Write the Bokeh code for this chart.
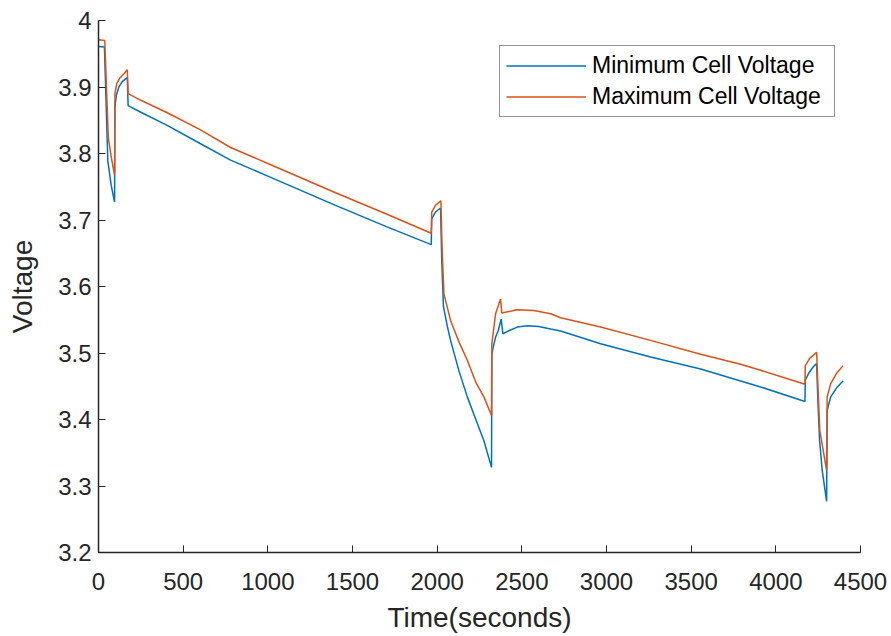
from bokeh.plotting import figure
from bokeh.models import FixedTicker, Legend, LegendItem, Range1d
from bokeh.embed import file_html
from bokeh.resources import INLINE

# ---- data ----
time_min = [0, 35, 55, 75, 95, 97, 105, 120, 140, 170, 175, 250, 400, 600, 780, 1000, 1400, 1700,
            1965, 1968, 1990, 2020, 2027, 2037, 2060, 2079, 2130, 2178, 2230, 2276, 2321,
            2323, 2335, 2345, 2360, 2378, 2388, 2420, 2473, 2532, 2600, 2670, 2729, 2965, 3260,
            3556, 3792, 3910, 4172, 4174, 4195, 4220, 4241, 4248, 4258, 4274, 4300,
            4303, 4324, 4360, 4397]
v_min = [3.961, 3.960, 3.789, 3.752, 3.727, 3.870, 3.887, 3.900, 3.908, 3.914, 3.872, 3.862, 3.843,
         3.815, 3.790, 3.766, 3.722, 3.690, 3.663, 3.702, 3.712, 3.718, 3.640, 3.570, 3.540, 3.519,
         3.472, 3.434, 3.399, 3.368, 3.328, 3.499, 3.513, 3.524, 3.533, 3.551, 3.529, 3.533, 3.539,
         3.541, 3.540, 3.536, 3.533, 3.514, 3.494, 3.476, 3.458, 3.449, 3.427, 3.459, 3.470, 3.479,
         3.484, 3.430, 3.370, 3.323, 3.277, 3.414, 3.434, 3.448, 3.458]

time_max = [0, 37, 58, 75, 95, 97, 108, 125, 150, 170, 175, 250, 400, 600, 780, 1000, 1400, 1700,
            1965, 1968, 1990, 2022, 2030, 2040, 2079, 2130, 2178, 2230, 2276, 2321,
            2323, 2345, 2362, 2374, 2382, 2473, 2570, 2670, 2729, 2965, 3260, 3556, 3792, 3910,
            4172, 4174, 4200, 4241, 4250, 4260, 4300, 4303, 4324, 4360, 4397]
v_max = [3.971, 3.970, 3.824, 3.795, 3.767, 3.890, 3.905, 3.913, 3.920, 3.926, 3.890, 3.880, 3.862,
         3.836, 3.809, 3.785, 3.741, 3.709, 3.680, 3.712, 3.722, 3.729, 3.650, 3.589, 3.549, 3.516,
         3.489, 3.455, 3.434, 3.406, 3.514, 3.559, 3.572, 3.581, 3.560, 3.565, 3.564, 3.559, 3.553,
         3.539, 3.519, 3.498, 3.483, 3.474, 3.453, 3.481, 3.492, 3.501, 3.440, 3.383, 3.323, 3.434,
         3.454, 3.470, 3.481]

x_ticks = [0, 500, 1000, 1500, 2000, 2500, 3000, 3500, 4000, 4500]
y_ticks = [3.2, 3.3, 3.4, 3.5, 3.6, 3.7, 3.8, 3.9, 4.0]
y_tick_labels = ["3.2", "3.3", "3.4", "3.5", "3.6", "3.7", "3.8", "3.9", "4"]
series_names = ["Minimum Cell Voltage", "Maximum Cell Voltage"]

FONT = "Liberation Sans"
TXT = "#262626"

p = figure(width=891, height=636, output_backend="svg", toolbar_location=None,
           x_range=Range1d(0, 4500), y_range=Range1d(3.2, 4.0),
           min_border_left=98, min_border_right=31, min_border_top=20, min_border_bottom=84)
p.outline_line_color = None
p.xgrid.visible = False
p.ygrid.visible = False
p.background_fill_color = "white"
p.border_fill_color = "white"

r1 = p.line(time_min, v_min, line_color="#0072BD", line_width=1.5)
r2 = p.line(time_max, v_max, line_color="#D95319", line_width=1.5)

for ax in (p.xaxis[0], p.yaxis[0]):
    ax.axis_line_color = TXT
    ax.axis_line_width = 1.5
    ax.major_tick_line_color = TXT
    ax.major_tick_in = 7
    ax.major_tick_out = 0
    ax.minor_tick_line_color = None
    ax.major_label_text_font = FONT
    ax.major_label_text_font_size = "24px"
    ax.major_label_text_color = TXT
    ax.axis_label_text_font = FONT
    ax.axis_label_text_font_size = "28px"
    ax.axis_label_text_font_style = "normal"
    ax.axis_label_text_color = TXT

p.xaxis.ticker = FixedTicker(ticks=x_ticks)
p.yaxis.ticker = FixedTicker(ticks=y_ticks)
p.yaxis.major_label_overrides = dict(zip(y_ticks, y_tick_labels))
p.xaxis.axis_label = "Time(seconds)"
p.yaxis.axis_label = "Voltage"
p.xaxis.major_label_standoff = 20
p.yaxis.major_label_standoff = 7
p.xaxis.axis_label_standoff = 9
p.yaxis.axis_label_standoff = 17

legend = Legend(items=[LegendItem(label=series_names[0], renderers=[r1]),
                       LegendItem(label=series_names[1], renderers=[r2])],
                location=(401, 435))
legend.label_text_font = FONT
legend.label_text_font_size = "23px"
legend.label_text_color = "black"
legend.glyph_width = 80
legend.glyph_height = 27
legend.label_height = 27
legend.label_width = 236
legend.label_standoff = 6
legend.spacing = 4
legend.padding = 6
legend.margin = 0
legend.border_line_color = TXT
legend.border_line_width = 1
legend.background_fill_alpha = 1
p.add_layout(legend, "center")

open("out.html", "w").write(file_html(p, INLINE))
